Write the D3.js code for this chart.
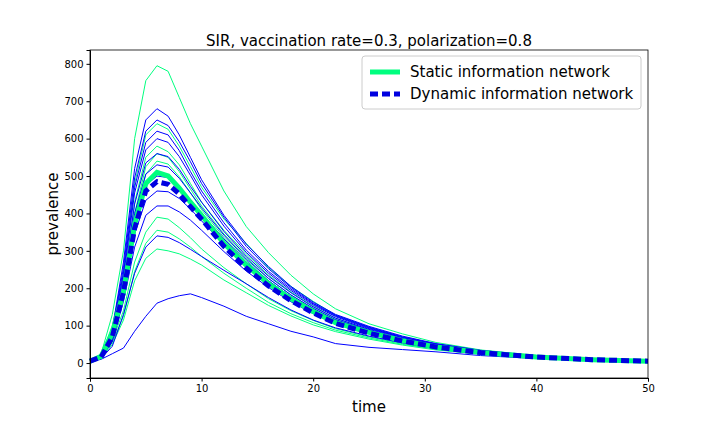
<!DOCTYPE html><head><meta charset="utf-8">
<title>SIR prevalence</title>
<script src="https://cdn.jsdelivr.net/npm/d3@7"></script>
<style>
body { margin: 0; background: white; font-family: "DejaVu Sans", sans-serif; }
</style>
</head><body>
<svg id="chart" width="720" height="432"></svg>
<script>
var times = [0,1,2,3,4,5,6,7,8,9,10,12,14,16,18,20,22,25,28,31,35,40,45,50];

var staticRuns = [
  [5,25,130,300,600,755,795,780,710,640,580,460,365,295,235,185,145,105,78,55,35,20,11,6],
  [5,22,100,240,480,610,640,625,580,525,470,385,320,255,205,165,128,95,70,50,33,18,10,6],
  [5,20,90,210,430,550,580,565,530,480,430,355,292,235,190,152,120,88,64,46,30,17,10,5],
  [5,18,85,195,400,525,560,550,512,465,420,345,282,226,182,146,116,85,62,45,29,17,9,5],
  [4,18,80,185,390,505,540,532,498,455,410,336,274,220,177,142,112,82,60,44,29,16,9,5],
  [4,15,60,140,270,350,390,385,362,335,305,255,212,172,140,114,92,70,52,38,26,15,8,5],
  [4,14,55,125,245,320,355,350,332,310,285,240,200,162,132,108,88,67,50,37,25,14,8,5],
  [4,13,50,115,220,280,305,300,292,278,262,222,188,154,126,102,84,64,48,35,24,14,8,5]
];
var staticMean = [5,18,80,190,370,480,510,500,468,430,395,320,262,212,172,138,108,82,60,43,28,16,9,5];

var dynamicRuns = [
  [5,20,90,270,520,650,680,660,610,550,490,395,318,258,205,163,130,98,72,52,34,19,10,6],
  [5,20,85,255,495,620,650,635,592,538,480,390,312,252,202,160,128,96,70,51,33,19,10,6],
  [5,18,80,240,470,590,620,610,568,512,460,375,302,245,198,158,126,94,68,50,32,18,10,6],
  [5,18,78,230,455,570,600,590,552,502,450,366,296,240,194,155,124,92,68,49,32,18,10,6],
  [5,18,75,215,425,535,560,552,518,472,430,352,286,232,188,150,120,90,66,48,31,17,9,5],
  [5,17,70,205,400,505,530,524,494,455,415,342,278,226,182,146,116,88,64,47,30,17,9,5],
  [5,16,66,195,375,475,500,496,470,435,400,332,270,220,177,142,114,86,63,46,30,17,9,5],
  [5,15,62,180,345,435,460,458,440,412,380,318,260,212,172,138,110,84,62,45,29,16,9,5],
  [4,14,58,165,310,395,420,420,404,382,355,298,246,202,164,132,106,80,60,44,28,16,8,5],
  [4,12,45,130,240,310,340,336,322,304,285,248,212,175,142,115,94,72,54,39,26,15,8,5],
  [3,10,25,40,85,125,160,172,180,185,175,152,125,105,85,70,52,42,36,30,20,12,8,5]
];
var dynamicMean = [5,16,70,190,360,460,485,478,452,418,385,312,254,206,167,134,106,80,59,43,28,16,9,5];

var xTicks = [0,10,20,30,40,50];
var yTicks = [0,100,200,300,400,500,600,700,800];

var svg = d3.select("#chart");
var margin = {left: 90, right: 72, top: 50, bottom: 54};
var width = 720, height = 432;

var xscale = d3.scaleLinear().domain([0, 50]).range([margin.left, width - margin.right]);
var yscale = d3.scaleLinear().domain([-40, 837]).range([height - margin.bottom, margin.top]);

var line = d3.line().x((d, i) => xscale(times[i])).y(d => yscale(d));

var plot = svg.append("g");
staticRuns.forEach(function(r) {
  plot.append("path").attr("d", line(r)).attr("fill", "none").attr("stroke", "#00ff7f").attr("stroke-width", 1);
});
dynamicRuns.forEach(function(r) {
  plot.append("path").attr("d", line(r)).attr("fill", "none").attr("stroke", "#0000ff").attr("stroke-width", 1);
});
plot.append("path").attr("d", line(staticMean)).attr("fill", "none").attr("stroke", "#00ff7f").attr("stroke-width", 5);
plot.append("path").attr("d", line(dynamicMean)).attr("fill", "none").attr("stroke", "#0000e0")
  .attr("stroke-width", 5).attr("stroke-dasharray", "8,4");

svg.append("g").attr("transform", "translate(0," + (height - margin.bottom) + ")")
  .call(d3.axisBottom(xscale).tickValues(xTicks).tickSizeOuter(0).tickSize(3.5))
  .call(g => g.selectAll("text").style("font-size", "10px").style("font-family", "DejaVu Sans"));
svg.append("g").attr("transform", "translate(" + margin.left + ",0)")
  .call(d3.axisLeft(yscale).tickValues(yTicks).tickSizeOuter(0).tickSize(3.5))
  .call(g => g.selectAll("text").style("font-size", "10px").style("font-family", "DejaVu Sans"));

svg.append("rect").attr("x", margin.left).attr("y", margin.top)
  .attr("width", width - margin.left - margin.right).attr("height", height - margin.top - margin.bottom)
  .attr("fill", "none").attr("stroke", "black").attr("stroke-width", 0.8);

svg.append("text").attr("x", (margin.left + width - margin.right) / 2).attr("y", 46)
  .attr("text-anchor", "middle").style("font-size", "15px").text("SIR, vaccination rate=0.3, polarization=0.8");
svg.append("text").attr("x", (margin.left + width - margin.right) / 2).attr("y", 412)
  .attr("text-anchor", "middle").style("font-size", "15px").text("time");
svg.append("text").attr("transform", "rotate(-90)").attr("x", -(margin.top + height - margin.bottom) / 2).attr("y", 58)
  .attr("text-anchor", "middle").style("font-size", "15px").text("prevalence");

var lg = svg.append("g").attr("transform", "translate(362,56)");
lg.append("rect").attr("width", 279).attr("height", 53).attr("rx", 3)
  .attr("fill", "white").attr("fill-opacity", 0.8).attr("stroke", "#cccccc");
lg.append("line").attr("x1", 8).attr("x2", 38).attr("y1", 16).attr("y2", 16).attr("stroke", "#00ff7f").attr("stroke-width", 5);
lg.append("line").attr("x1", 8).attr("x2", 38).attr("y1", 38).attr("y2", 38).attr("stroke", "#0000e0")
  .attr("stroke-width", 5).attr("stroke-dasharray", "8,4");
lg.append("text").attr("x", 48).attr("y", 21).style("font-size", "15px").text("Static information network");
lg.append("text").attr("x", 48).attr("y", 43).style("font-size", "15px").text("Dynamic information network");
</script>
</body></html>
